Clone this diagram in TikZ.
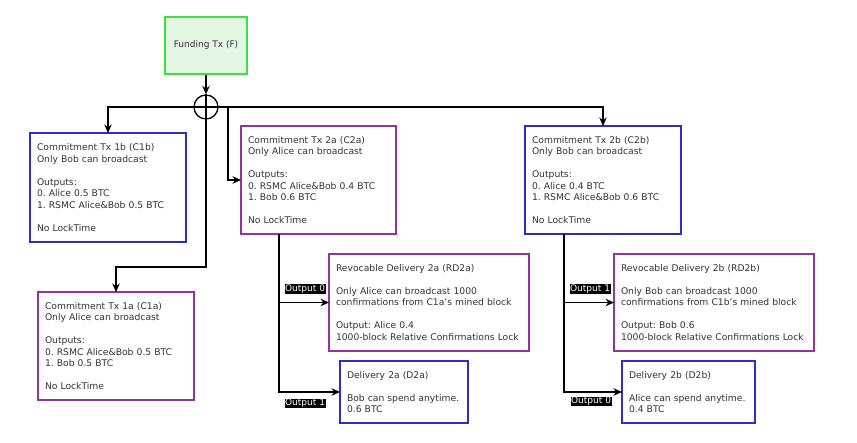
\documentclass[tikz,border=0pt]{standalone}
\usepackage{fontspec}
\setmainfont{DejaVu Sans}
\usetikzlibrary{arrows.meta, positioning}
\frenchspacing
\definecolor{fundgreen}{RGB}{60,225,60}
\definecolor{fundfill}{RGB}{226,246,226}
\definecolor{txblue}{RGB}{45,45,205}
\definecolor{txpurple}{RGB}{150,50,160}
\definecolor{txtext}{RGB}{50,50,50}
\tikzset{
  txbox/.style={rectangle, anchor=north west, align=left,
    inner xsep=7pt, outer sep=0pt, line width=1.4pt, text=txtext,
    font=\fontsize{9.2}{11.5}\selectfont},
  bluebox/.style={txbox, draw=txblue},
  purplebox/.style={txbox, draw=txpurple},
  fundbox/.style={rectangle, draw=fundgreen, fill=fundfill, line width=1.4pt,
    minimum width=82pt, minimum height=57pt, text=txtext,
    font=\fontsize{9}{11.5}\selectfont},
  junction/.style={circle, draw, minimum size=24pt, inner sep=0pt,
    line width=1.3pt},
  arrow/.style={-{Stealth[length=8.5pt, width=7.5pt]}, line width=1.3pt},
  line/.style={line width=1.3pt}
}
\begin{document}
\begin{tikzpicture}[x=1pt, y=-1pt,
  outlabel/.style={fill=black, text=white, inner sep=0.5pt,
    font=\fontsize{9}{10}\selectfont}]
  \useasboundingbox (0,0) rectangle (857,442);

  % Funding transaction and its split
  \node[fundbox] (fund) at (206,45.5) {Funding Tx (F)};
  \node[junction] (junc) at (206,107) {};
  \coordinate (split) at (206,267);
  \coordinate (tap) at (228,107);

  % Commitment transactions
  \node[bluebox, text width=142pt, minimum height=109pt] (c1b) at (30,133)
    {Commitment Tx 1b (C1b)\\Only Bob can broadcast\\[11.5pt]Outputs:\\0. Alice 0.5 BTC\\1. RSMC Alice\&Bob 0.5 BTC\\[11.5pt]No LockTime};
  \node[purplebox, text width=142pt, minimum height=108pt] (c1a) at (38,292)
    {Commitment Tx 1a (C1a)\\Only Alice can broadcast\\[11.5pt]Outputs:\\0. RSMC Alice\&Bob 0.5 BTC\\1. Bob 0.5 BTC\\[11.5pt]No LockTime};
  \node[purplebox, text width=141pt, minimum height=108pt] (c2a) at (241,126)
    {Commitment Tx 2a (C2a)\\Only Alice can broadcast\\[11.5pt]Outputs:\\0. RSMC Alice\&Bob 0.4 BTC\\1. Bob 0.6 BTC\\[11.5pt]No LockTime};
  \node[bluebox, text width=142pt, minimum height=108pt] (c2b) at (525,126)
    {Commitment Tx 2b (C2b)\\Only Bob can broadcast\\[11.5pt]Outputs:\\0. Alice 0.4 BTC\\1. RSMC Alice\&Bob 0.6 BTC\\[11.5pt]No LockTime};

  % Revocable deliveries
  \node[purplebox, text width=186pt, minimum height=97pt] (rd2a) at (329,254)
    {Revocable Delivery 2a (RD2a)\\[11.5pt]Only Alice can broadcast 1000\\confirmations from C1a's mined block\\[11.5pt]Output: Alice 0.4\\1000-block Relative Confirmations Lock};
  \node[purplebox, text width=186pt, minimum height=97pt] (rd2b) at (614,254)
    {Revocable Delivery 2b (RD2b)\\[11.5pt]Only Bob can broadcast 1000\\confirmations from C1b's mined block\\[11.5pt]Output: Bob 0.6\\1000-block Relative Confirmations Lock};

  % Deliveries
  \node[bluebox, text width=114pt, minimum height=62pt,
    below right=10pt and 11pt of rd2a.south west] (d2a)
    {Delivery 2a (D2a)\\[11.5pt]Bob can spend anytime.\\0.6 BTC};
  \node[bluebox, text width=119pt, minimum height=62pt,
    below right=10pt and 8pt of rd2b.south west] (d2b)
    {Delivery 2b (D2b)\\[11.5pt]Alice can spend anytime.\\0.4 BTC};

  % Arrows from the funding transaction
  \draw[arrow] (fund) -- (junc.north);
  \draw[arrow] (junc.center) -| (c1b.north);
  \draw[arrow] (junc.center) -| (c2b.north);
  \draw[arrow] (junc.north) -- (split) -| (c1a.north);
  \draw[arrow] (tap) |- (c2a.west);

  % Outputs of C2a
  \draw[arrow] ([xshift=38pt]c2a.south west) |-
    node[outlabel, pos=0.5, anchor=south west, xshift=5pt, yshift=8pt] {Output 0} (rd2a.west);
  \draw[arrow] ([xshift=38pt]c2a.south west) |-
    node[outlabel, pos=0.5, anchor=north west, xshift=5pt, yshift=-6pt] {Output 1} (d2a.west);

  % Outputs of C2b
  \draw[arrow] ([xshift=39pt]c2b.south west) |-
    node[outlabel, pos=0.5, anchor=south west, xshift=5pt, yshift=8pt] {Output 1} (rd2b.west);
  \draw[arrow] ([xshift=39pt]c2b.south west) |-
    node[outlabel, pos=0.5, anchor=north west, xshift=6pt, yshift=-4pt] {Output 0} (d2b.west);
\end{tikzpicture}
\end{document}
